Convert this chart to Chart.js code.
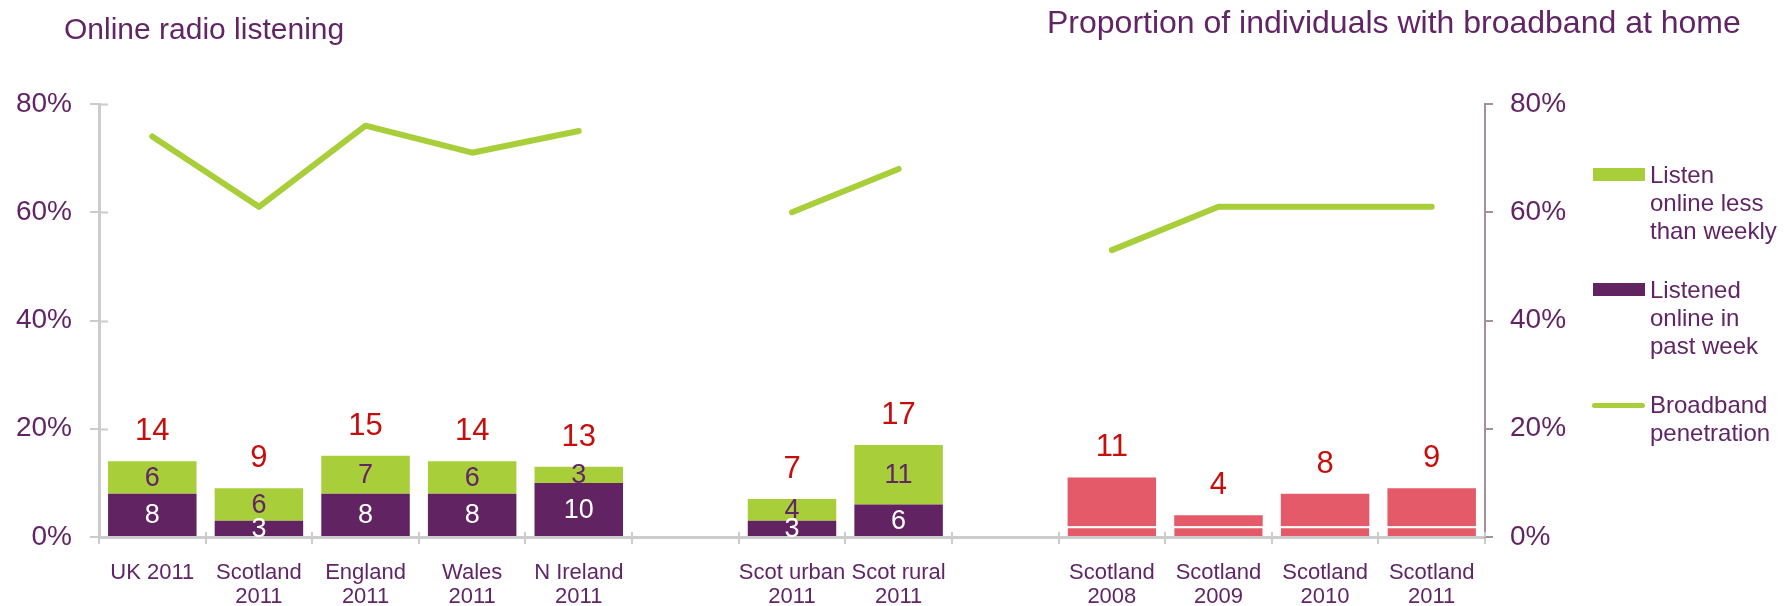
<!DOCTYPE html>
<html>
<head>
<meta charset="utf-8">
<title>Online radio listening</title>
<script src="https://cdn.jsdelivr.net/npm/chart.js@4/dist/chart.umd.min.js"></script>
<style>
  html, body { margin: 0; padding: 0; background: #ffffff; }
  #wrap { position: relative; width: 1789px; height: 606px; overflow: hidden;
          font-family: "Liberation Sans", Arial, sans-serif; color: #612566; }
  #chart { position: absolute; left: 0; top: 0; }
  .title { position: absolute; line-height: 32px; white-space: nowrap; }
  .legend-text { position: absolute; left: 1650px; font-size: 24px; line-height: 28px; }
  .swatch { position: absolute; left: 1593px; width: 52px; height: 13px; }
  .swatch-line { position: absolute; left: 1592px; width: 53px; height: 5px; border-radius: 3px; }
</style>
</head>
<body>
<div id="wrap">
  <canvas id="chart" width="1789" height="606"></canvas>
  <div class="title" style="left:64px; top:13px; font-size:30px;">Online radio listening</div>
  <div class="title" style="left:1047px; top:6px; font-size:32px;">Proportion of individuals with broadband at home</div>

  <div class="swatch" style="top:168px; background:#A8CE3A;"></div>
  <div class="legend-text" style="top:161px;">Listen<br>online less<br>than weekly</div>

  <div class="swatch" style="top:283px; background:#622363;"></div>
  <div class="legend-text" style="top:276px;">Listened<br>online in<br>past week</div>

  <div class="swatch-line" style="top:403px; background:#A8CE3A;"></div>
  <div class="legend-text" style="top:391px;">Broadband<br>penetration</div>
</div>
<script>
// Categories (blank entries separate the three panels)
const categories = [
  ['UK 2011'], ['Scotland', '2011'], ['England', '2011'], ['Wales', '2011'], ['N Ireland', '2011'],
  '',
  ['Scot urban', '2011'], ['Scot rural', '2011'],
  '',
  ['Scotland', '2008'], ['Scotland', '2009'], ['Scotland', '2010'], ['Scotland', '2011']
];

// Online radio listening, % of adults (lower and upper stack segments)
const pastWeek       = [8, 3, 8, 8, 10, null, 3, 6,  null, 2, 2, 2, 2];
const lessThanWeekly = [6, 6, 7, 6, 3,  null, 4, 11, null, 9, 2, 6, 7];

// Broadband penetration, % of individuals
const broadband = [74, 61, 76, 71, 75, null, 60, 68, null, 53, 61, 61, 61];

// Axis tick values
const tickValues = [0, 20, 40, 60, 80];

const PURPLE = '#622363';
const GREEN = '#A8CE3A';
const RED_BAR = '#E45A69';
const RED_TEXT = '#C80D0D';
const TEXT = '#612566';
const AXIS_GREY = '#CCCCCC';
const AXIS_MAUVE = '#A48FA0';
const FONT = '"Liberation Sans", Arial, sans-serif';

// Scotland trend (last panel) is drawn in red and labelled with totals only
const isTrend = i => i >= 9;

// Value labels inside each segment and totals above each stack
const valueLabels = {
  id: 'valueLabels',
  afterDatasetsDraw(chart) {
    const ctx = chart.ctx;
    const lower = chart.getDatasetMeta(1).data;
    const upper = chart.getDatasetMeta(2).data;
    ctx.save();
    ctx.textAlign = 'center';
    categories.forEach((c, i) => {
      if (pastWeek[i] == null) return;
      const a = lower[i], b = upper[i];
      if (!isTrend(i)) {
        ctx.font = '27px ' + FONT;
        ctx.textBaseline = 'middle';
        ctx.fillStyle = '#ffffff';
        ctx.fillText(String(pastWeek[i]), a.x, (a.y + a.base) / 2 + 1);
        ctx.fillStyle = TEXT;
        ctx.fillText(String(lessThanWeekly[i]), b.x, (b.y + b.base) / 2 + 1);
      }
      ctx.font = '31px ' + FONT;
      ctx.textBaseline = 'alphabetic';
      ctx.fillStyle = RED_TEXT;
      ctx.fillText(String(pastWeek[i] + lessThanWeekly[i]), b.x, b.y - 21);
    });
    ctx.restore();
  }
};

// Short tick marks crossing into the plot from the left and bottom axes
const innerTicks = {
  id: 'innerTicks',
  afterDraw(chart) {
    const ctx = chart.ctx;
    const xs = chart.scales.x, ys = chart.scales.y;
    ctx.save();
    ctx.strokeStyle = AXIS_GREY;
    ctx.lineWidth = 2;
    ctx.beginPath();
    tickValues.forEach(v => {
      const y = Math.round(ys.getPixelForValue(v)) + 0.5;
      ctx.moveTo(xs.left, y);
      ctx.lineTo(xs.left + 9, y);
    });
    for (let i = 0; i <= categories.length; i++) {
      const x = Math.round(xs.getPixelForValue(i - 0.5));
      ctx.moveTo(x, ys.bottom);
      ctx.lineTo(x, ys.bottom - 5);
    }
    ctx.stroke();
    ctx.restore();
  }
};

new Chart(document.getElementById('chart'), {
  data: {
    labels: categories,
    datasets: [
      {
        type: 'line',
        label: 'Broadband penetration',
        data: broadband,
        yAxisID: 'y2',
        borderColor: GREEN,
        borderWidth: 6,
        borderCapStyle: 'round',
        borderJoinStyle: 'round',
        pointRadius: 0,
        spanGaps: false,
        order: 0
      },
      {
        type: 'bar',
        label: 'Listened online in past week',
        data: pastWeek,
        yAxisID: 'y',
        stack: 'listening',
        backgroundColor: ctx => isTrend(ctx.dataIndex) ? RED_BAR : PURPLE,
        borderColor: '#ffffff',
        borderWidth: ctx => isTrend(ctx.dataIndex) ? { top: 2, left: 0, right: 0, bottom: 0 } : 0,
        borderSkipped: 'start',
        categoryPercentage: 1,
        barPercentage: 0.83,
        order: 1
      },
      {
        type: 'bar',
        label: 'Listen online less than weekly',
        data: lessThanWeekly,
        yAxisID: 'y',
        stack: 'listening',
        backgroundColor: ctx => isTrend(ctx.dataIndex) ? RED_BAR : GREEN,
        borderWidth: 0,
        categoryPercentage: 1,
        barPercentage: 0.83,
        order: 1
      }
    ]
  },
  options: {
    responsive: false,
    animation: false,
    layout: { padding: { top: 104, left: 0, right: 0, bottom: 0 } },
    plugins: { legend: { display: false }, tooltip: { enabled: false } },
    scales: {
      x: {
        type: 'category',
        stacked: true,
        offset: true,
        grid: { offset: true, drawOnChartArea: false, color: AXIS_GREY, lineWidth: 2, tickLength: 7 },
        border: { color: AXIS_GREY, width: 3 },
        ticks: {
          color: TEXT, autoSkip: false, maxRotation: 0, padding: 17,
          font: { family: FONT, size: 22, lineHeight: '24px' }
        },
        afterFit: s => { s.height = 69; }
      },
      y: {
        position: 'left',
        stacked: true,
        min: 0, max: 80,
        afterBuildTicks: s => { s.ticks = tickValues.map(v => ({ value: v })); },
        ticks: { color: TEXT, padding: 18, callback: v => v + '%', font: { family: FONT, size: 28 } },
        grid: { drawOnChartArea: false, color: AXIS_GREY, lineWidth: 2, tickLength: 9 },
        border: { color: AXIS_GREY, width: 3 },
        afterFit: s => { s.width = 99; }
      },
      y2: {
        position: 'right',
        min: 0, max: 80,
        afterBuildTicks: s => { s.ticks = tickValues.map(v => ({ value: v })); },
        ticks: { color: TEXT, padding: 17, callback: v => v + '%', font: { family: FONT, size: 28 } },
        grid: { drawOnChartArea: false, color: AXIS_MAUVE, lineWidth: 2, tickLength: 8 },
        border: { color: AXIS_MAUVE, width: 2 },
        afterFit: s => { s.width = 304; }
      }
    }
  },
  plugins: [valueLabels, innerTicks]
});
</script>
</body>
</html>
